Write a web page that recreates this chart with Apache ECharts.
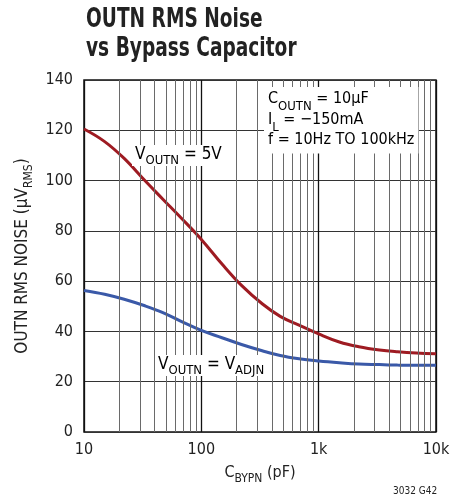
<!DOCTYPE html>
<html><head><meta charset="utf-8">
<script src="https://cdn.jsdelivr.net/npm/echarts@6/dist/echarts.min.js"></script>
<style>html,body{margin:0;padding:0;background:#fff}#c{width:467px;height:502px}</style>
</head><body><div id="c"></div>
<script>
const capX     = [10, 15, 22, 33, 47, 68, 100, 150, 220, 330, 470, 680, 1000, 1500, 2200, 3300, 4700, 6800, 10000];
const noise5V  = [120.5, 115.5, 108.8, 100.0, 92.6, 84.9, 76.6, 66.8, 58.3, 51.0, 46.0, 42.5, 39.0, 35.8, 33.9, 32.6, 31.9, 31.4, 31.1];
const noiseAdj = [56.3, 54.8, 52.8, 50.2, 47.5, 43.9, 40.4, 37.5, 34.8, 32.3, 30.4, 29.1, 28.2, 27.5, 27.0, 26.8, 26.6, 26.5, 26.5];
const minorX = [20,30,40,50,60,70,80,90,200,300,400,500,600,700,800,900,2000,3000,4000,5000,6000,7000,8000,9000];
const yTicks = {min: 0, max: 140, interval: 20};
const xLabels = {10: '10', 100: '100', 1000: '1k', 10000: '10k'};

const FONT = '"DejaVu Sans Condensed",sans-serif';
const chart = echarts.init(document.getElementById('c'), null, {renderer: 'canvas'});
const sub = {fontSize: 12, fontFamily: FONT, color: '#222', verticalAlign: 'bottom', padding: [0,0,-4,0]};
const norm = {fontSize: 16, fontFamily: FONT, color: '#222'};
const big = {fontSize: 17, fontFamily: FONT, color: '#222'};
const bigSub = {fontSize: 13, fontFamily: FONT, color: '#222', verticalAlign: 'bottom', padding: [0,0,-4,0]};
chart.setOption({
  animation: false,
  backgroundColor: '#fff',
  grid: {left: 84, right: 31, top: 80, bottom: 70, show: true, borderColor: '#111', borderWidth: 1.5, backgroundColor: 'transparent'},
  xAxis: {
    type: 'log', logBase: 10, min: 10, max: 10000,
    axisLine: {show: false}, axisTick: {show: false},
    axisLabel: {formatter: v => xLabels[Math.round(v)] || '', fontFamily: FONT, fontSize: 16, color: '#222', margin: 10},
    splitLine: {show: true, lineStyle: {color: '#111', width: 1.3}},
    name: '{n|C}{s|BYPN}{n| (pF)}', nameLocation: 'middle', nameGap: 33,
    nameTextStyle: {rich: {n: norm, s: sub}}
  },
  yAxis: {
    type: 'value', min: yTicks.min, max: yTicks.max, interval: yTicks.interval,
    axisLine: {show: false}, axisTick: {show: false},
    axisLabel: {fontFamily: FONT, fontSize: 16, color: '#222', margin: 11},
    splitLine: {show: true, lineStyle: {color: '#333', width: 1}},
    name: '{n|OUTN RMS NOISE (µV}{s|RMS}{n|)}', nameLocation: 'middle', nameGap: 45,
    nameTextStyle: {rich: {n: Object.assign({}, norm, {fontSize: 17}), s: sub}}
  },
  series: [
    {type: 'line', data: [[10, 0]], symbol: 'none', lineStyle: {opacity: 0}, z: 1, silent: true,
     markLine: {symbol: 'none', silent: true, label: {show: false}, animation: false,
       lineStyle: {color: '#6a6a6a', width: 1, type: 'solid'},
       data: minorX.map(v => ({xAxis: v}))}},
    {type: 'line', smooth: 0.4, symbol: 'none', z: 3, data: capX.map((x, i) => [x, noise5V[i]]),
     lineStyle: {color: '#9e1b22', width: 3}},
    {type: 'line', smooth: 0.4, symbol: 'none', z: 3, data: capX.map((x, i) => [x, noiseAdj[i]]),
     lineStyle: {color: '#3a59a8', width: 3}}
  ],
  graphic: [
    {type: 'text', left: 86, top: 5, scaleX: 0.765, z: 10, style: {
      text: 'OUTN RMS Noise\nvs Bypass Capacitor', fontFamily: FONT, fontWeight: 'bold', fontSize: 27, lineHeight: 29, fill: '#222'}},
    {type: 'text', left: 132, top: 145, z: 10, style: {
      text: '{n|V}{s|OUTN}{n| = 5V}', rich: {n: big, s: bigSub}, backgroundColor: '#fff', padding: [1, 3, 3, 3]}},
    {type: 'text', left: 155, top: 355, z: 10, style: {
      text: '{n|V}{s|OUTN}{n| = V}{s|ADJN}', rich: {n: big, s: bigSub}, backgroundColor: '#fff', padding: [1, 3, 3, 3]}},
    {type: 'text', left: 264, top: 87, z: 10, style: {
      text: '{n|C}{s|OUTN}{n| = 10µF}\n{n|I}{s|L}{n| = −150mA}\n{n|f = 10Hz TO 100kHz}',
      rich: {n: Object.assign({}, norm, {lineHeight: 20.5}), s: bigSub}, backgroundColor: '#fff', padding: [2, 4, 3, 4]}},
    {type: 'text', left: 393, top: 486, style: {text: '3032 G42', fontFamily: FONT, fontSize: 10, fill: '#222'}}
  ]
});
</script></body></html>
